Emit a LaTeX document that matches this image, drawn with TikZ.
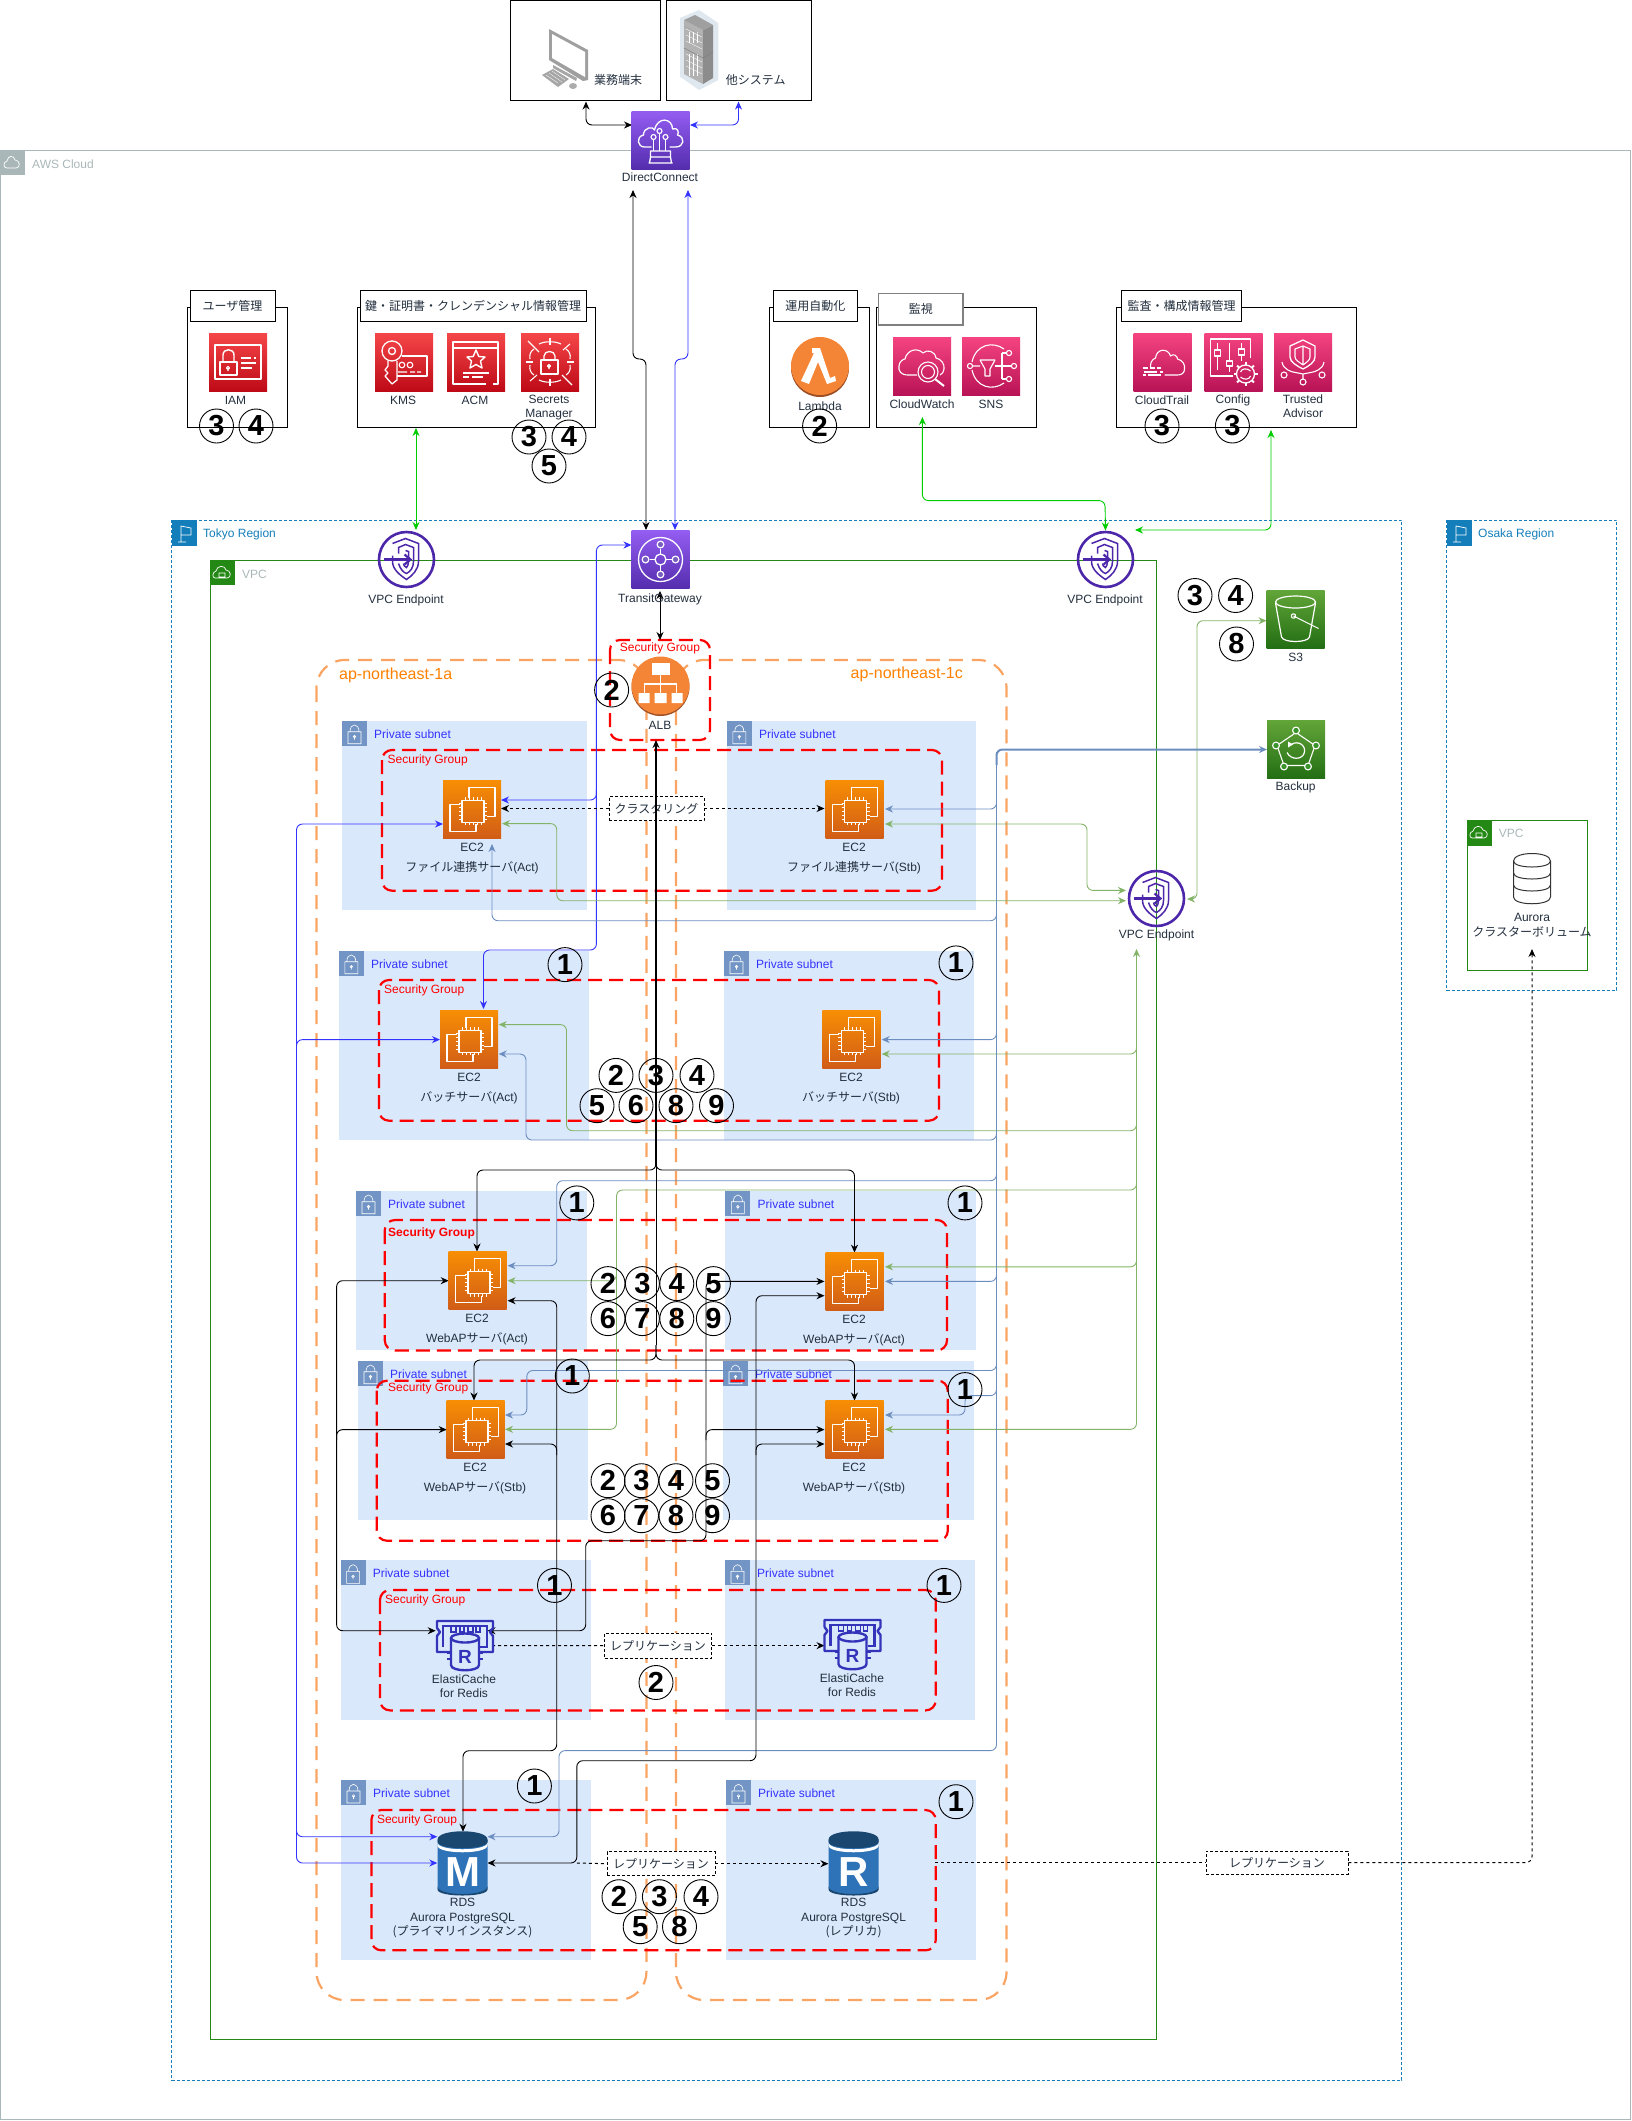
\documentclass[tikz,border=0pt]{standalone}
\usepackage{fontspec}
\setmainfont{Liberation Sans}
\newfontfamily\jp{Noto Sans CJK JP}
\usetikzlibrary{arrows.meta,calc,shapes.geometric}
\pgfdeclarelayer{icons}\pgfsetlayers{main,icons}
\definecolor{awsgray}{HTML}{AAB7B8}
\definecolor{region}{HTML}{147EBA}
\definecolor{vpcg}{HTML}{248814}
\definecolor{subfill}{HTML}{DAE8FC}
\definecolor{subhead}{HTML}{7395C5}
\definecolor{azor}{HTML}{F9A463}
\definecolor{azt}{HTML}{FF8000}
\definecolor{bb}{HTML}{3333FF}
\definecolor{gb}{HTML}{00CC00}
\definecolor{dg}{HTML}{82B366}
\definecolor{db}{HTML}{6C8EBF}
\definecolor{txt}{HTML}{232F3E}
\definecolor{purp}{HTML}{4D27AA}
\definecolor{ecb}{HTML}{3334B9}
\definecolor{redt}{HTML}{F54749}\definecolor{redb}{HTML}{BE0A17}
\definecolor{pinkt}{HTML}{F54480}\definecolor{pinkb}{HTML}{B81356}
\definecolor{purpt}{HTML}{945DF2}\definecolor{purpb}{HTML}{542DAD}
\definecolor{greent}{HTML}{62A538}\definecolor{greenb}{HTML}{236E14}
\definecolor{oranget}{HTML}{F78E04}\definecolor{orangeb}{HTML}{D05C17}
\definecolor{lamb}{HTML}{F58536}\definecolor{lamd}{HTML}{9D5025}
\definecolor{rdsb}{HTML}{2E73B8}\definecolor{rdsd}{HTML}{1A476F}
\definecolor{halo}{HTML}{DFE7EF}
\newcounter{tlabc}
\newcommand\tlab[4][]{\stepcounter{tlabc}\node[lbl,#1] (t\thetlabc) at (#2,#3) {#4};}
\newcommand\numcirc[3]{\stepcounter{tlabc}\node[numc] (t\thetlabc) at (#1,#2) {#3};}
\newcommand\awsicon[5]{\node[iconbox,#2] (#1) at (#3,#4) {}; \pic at (#1.center) {#5};}
\newcommand\rnode[7]{\pgfmathsetmacro\cxv{(#3+#5)/2}\pgfmathsetmacro\cyv{(#4+#6)/2}\pgfmathsetmacro\wv{#5-#3}\pgfmathsetmacro\hv{#6-#4}\node[#2,minimum width=\wv pt,minimum height=\hv pt] (#1) at (\cxv,\cyv) {#7};}
\newcommand\subnet[4]{\fill[subfill] (#1,#2) rectangle (#3,#4);\fill[subhead] (#1,#2) rectangle ++(25,25);
 \draw[white,line width=.6pt] (#1+6,#2+11) rectangle ++(13,12) (#1+8,#2+11) .. controls (#1+8,#2+2) and (#1+17,#2+2) .. (#1+17,#2+11) (#1+12.5,#2+16) circle[radius=1.3] -- ++(0,3);
 \tlab[anchor=west,text=bb]{#1+32}{#2+13}{Private subnet}}
\newcommand\secgrp[4]{\draw[sgst] (#1,#2) rectangle (#3,#4);}
\newcommand\sglab[2]{\tlab[anchor=west,text=red]{#1}{#2}{Security Group}}
\tikzset{
 >={Stealth[length=8pt,width=7pt]},
 lbl/.style={font=\fontsize{12}{14.5}\selectfont,text=txt,align=center,inner sep=0pt},
 numc/.style={circle,draw=black,line width=.9pt,minimum size=34pt,inner sep=0pt,text=black,font=\fontsize{29}{29}\selectfont\bfseries},
 iconbox/.style={minimum size=58pt,inner sep=0pt,outer sep=0pt,draw=none},
 redi/.style={top color=redt,bottom color=redb},
 pinki/.style={top color=pinkt,bottom color=pinkb},
 purpi/.style={top color=purpt,bottom color=purpb},
 greeni/.style={top color=greent,bottom color=greenb},
 orangei/.style={top color=oranget,bottom color=orangeb},
 grp/.style={draw=black,line width=1pt,inner sep=0pt},
 ttl/.style={draw=black,fill=white,line width=1pt,inner sep=0pt,font=\fontsize{12}{14}\selectfont\jp,text=txt},
 dashl/.style={draw=black,dash pattern=on 3pt off 2pt,fill=white,line width=.8pt,inner sep=0pt,font=\fontsize{12}{14}\selectfont\jp,text=txt},
 sgst/.style={draw=red,line width=2.2pt,dash pattern=on 14pt off 7pt,rounded corners=10pt},
 azst/.style={draw=azor,line width=2.2pt,dash pattern=on 14pt off 9pt,rounded corners=28pt},
 cb/.style={line width=.9pt,rounded corners=6pt},
 cblue/.style={cb,draw=bb},
 cgb/.style={cb,draw=gb},
 cdg/.style={cb,draw=dg},
 cdb/.style={cb,draw=db},
 cblk/.style={cb,draw=black},
 cdot/.style={draw=black,line width=1pt,dash pattern=on 3pt off 3pt,rounded corners=6pt},
 art/.style={draw=white,line width=1.1pt,fill=none,line join=round},
 ec2art/.pic={
  \draw[art,line width=1.2pt] (-3,-11)--(-3,-22)--(23,-22)--(23,7)--(15,7);
  \draw[art,line width=1.2pt] (-12,-5)--(-22,-5)--(-22,22)--(4,22)--(4,15);
  \draw[art,line width=1.6pt] (-10,-9) rectangle (12,13);
  \foreach \t in {-7,-3,1,5,9}{\draw[art,line width=.7pt] (\t,-12)--(\t,-9) (\t,13)--(\t,16) (-13,\t+1)--(-10,\t+1) (12,\t+1)--(15,\t+1);}
 },
 iamart/.pic={
  \draw[art] (-23,-17) rectangle (23,17);
  \draw[art] (-18,0) rectangle (-1,13);
  \draw[art,line width=1.4pt] (-15,0) -- (-15,-7) .. controls (-15,-14) and (-4,-14) .. (-4,-7) -- (-4,0);
  \draw[art] (-10,6) circle[radius=1.6] -- ++(0,3);
  \draw[art] (3,-4)--(13,-4) (16,-4)--(18,-4) (3,1)--(18,1) (3,6)--(14,6);
 },
 kmsart/.pic={
  \draw[art,line width=1.3pt] (-12,-11) circle[radius=10] (-12,-11) circle[radius=3.5];
  \draw[art,line width=1.3pt] (-16,-1) -- (-16,4) -- (-19,8) -- (-16,11) -- (-19,14) -- (-12,22) -- (-7,18) -- (-7,-1);
  \draw[art] (-2,-6) -- (23,-6) -- (23,14) -- (-7,14);
  \draw[art] (-2,3) circle[radius=2.8] (6,3) circle[radius=2.8] (-6,10)--(3,10) (6,10)--(11,10) (13,10)--(17,10);
 },
 acmart/.pic={
  \draw[art,line width=1.3pt] (10,22) -- (-23,22) -- (-23,-20) -- (22,-20) -- (22,22) -- (17,22);
  \draw[art] (-23,-14) -- (22,-14) (-13,11)--(13,11) (-13,15)--(-7,15) (-4,15)--(7,15);
  \draw[art,line width=1.4pt] (0,-12) -- (2.8,-5.5) -- (9,-5) -- (4.5,-1) -- (6,6) -- (0,2.5) -- (-6,6) -- (-4.5,-1) -- (-9,-5) -- (-2.8,-5.5) -- cycle;
 },
 secart/.pic={
  \draw[art] (-22,-21)--(-11,-10) (20,-18)--(13,-12) (-20,19)--(-13,13) (12,13)--(22,23);
  \draw[art] (-20,-3) .. controls (-21,-8) and (-19,-11) .. (-16,-13);
  \draw[art] (-20,3) .. controls (-21,8) and (-19,11) .. (-16,13);
  \draw[art] (20,-3) .. controls (21,-8) and (19,-11) .. (16,-13);
  \draw[art] (20,3) .. controls (21,8) and (19,11) .. (16,13);
  \draw[art] (-11,-18) .. controls (-5,-21) and (5,-21) .. (11,-18) (-11,18) .. controls (-5,21) and (5,21) .. (11,18);
  \draw[art] (0,-24)--(0,-17) (0,17)--(0,24) (-24,0)--(-17,0) (17,0)--(24,0);
  \draw[art] (-9,-2) rectangle (8,12);
  \draw[art,line width=1.3pt] (-6,-2) -- (-6,-6) .. controls (-6,-12) and (5,-12) .. (5,-6) -- (5,-2);
  \draw[art] (-1,4) circle[radius=1.5] -- ++(0,3);
 },
 cwart/.pic={
  \draw[art] (-5,9) -- (-14,9) .. controls (-21,9) and (-24,5) .. (-23,0) .. controls (-23,-4) and (-19,-7) .. (-17,-7) .. controls (-15,-16) and (-5,-19) .. (1,-13) .. controls (5,-17) and (13,-15) .. (14,-8) .. controls (19,-7) and (23,-2) .. (22,3) .. controls (22,6) and (20,8) .. (18,9);
  \draw[art] (6,6) circle[radius=10] (6,6) circle[radius=6.5];
  \draw[art,line width=2pt] (13,13)--(22,20);
 },
 snsart/.pic={
  \draw[art] (13,-17) .. controls (2,-25) and (-15,-22) .. (-19,-4) (-19,4) .. controls (-15,22) and (2,25) .. (13,17);
  \draw[art] (-21,0) circle[radius=2.6] (-18,0)--(-11,0);
  \draw[art] (-11,-6) -- (4,-6) -- (-1,3) -- (-1,10) -- (-6,10) -- (-6,3) -- cycle;
  \draw[art] (4,0)--(21,0) (11,-13)--(11,13) (11,-13)--(15,-13) (11,13)--(15,13);
  \draw[art] (18,-13) circle[radius=2.6] (23,0) circle[radius=2.6] (18,13) circle[radius=2.6];
 },
 ctart/.pic={
  \draw[art] (-12,5) .. controls (-12,-3) and (-8,-3) .. (-7,-4) .. controls (-6,-14) and (6,-14) .. (8,-6) .. controls (11,-9) and (15,-6) .. (15,-3) .. controls (20,-2) and (23,3) .. (22,7) .. controls (22,11) and (19,13) .. (15,13) -- (2,13);
  \draw[art] (-20,6)--(-15,6) (-13,6)--(-8,6) (-6,6)--(-2,6) (-19,10)--(-6,10) (-3,10)--(0,10) (-20,13)--(-17,13) (-15,13)--(-2,13);
 },
 cfgart/.pic={
  \draw[art] (-1,14) -- (-23,14) -- (-23,-23) -- (17,-23) -- (17,-4);
  \draw[art] (-16,-19)--(-16,-12) (-16,-6)--(-16,8) (-4,-19)--(-4,-1) (-4,4)--(-4,10) (8,-19)--(8,-13) (8,-7)--(8,-1);
  \draw[art] (-19,-12) rectangle (-13,-6) (-7,-1) rectangle (-1,4) (5,-13) rectangle (11,-7);
  \draw[art,line width=1.3pt] (12,12) circle[radius=9];
  \foreach \a in {0,45,...,315}{\draw[art,line width=2pt] ($(12,12)+(\a:9pt)$) -- ($(12,12)+(\a:12pt)$);}
  \draw[art] (7,10) .. controls (8,6) and (14,6) .. (17,9) (17,14) .. controls (16,18) and (10,18) .. (7,15);
 },
 taart/.pic={
  \draw[art,line width=1.3pt] (-13,-16) -- (0,-22) -- (12,-16) -- (12,-5) .. controls (12,0) and (6,4) .. (0,7) .. controls (-6,4) and (-13,0) .. (-13,-5) -- cycle;
  \draw[art] (-8,-13) -- (0,-16) -- (7,-13) -- (7,-5) .. controls (7,-2) and (4,0) .. (0,3) .. controls (-4,0) and (-8,-2) .. (-8,-5) -- cycle (0,-16)--(0,3);
  \draw[art] (-21,0) .. controls (-20,8) and (-10,10) .. (-10,10) -- (0,12) -- (10,10) .. controls (10,10) and (20,8) .. (21,0);
  \draw[art] (-19,13) circle[radius=3] (0,20) circle[radius=3] (19,13) circle[radius=3] (0,12)--(0,17);
 },
 dcart/.pic={
  \draw[art,line width=1.3pt] (-9,7) -- (-16,7) .. controls (-23,7) and (-25,-3) .. (-17,-5) .. controls (-17,-13) and (-7,-14) .. (-6,-10) .. controls (-3,-24) and (12,-22) .. (12,-11) .. controls (17,-13) and (19,-8) .. (17,-5) .. controls (25,-3) and (24,7) .. (15,7) -- (9,7);
  \draw[art] (-1,-9) circle[radius=2.5] (-7,-3) circle[radius=2.5] (5,-3) circle[radius=2.5];
  \draw[art] (-1,-6.5)--(-1,11) (-7,-0.5)--(-7,11) (5,-0.5)--(5,11);
  \draw[art,line width=1.3pt] (-10,11) -- (10,11) -- (10,17) -- (-10,17) -- cycle (-10,17)--(-11,23) (10,17)--(11,23) (-12,23)--(12,23);
 },
 tgwart/.pic={
  \draw[art,line width=1.3pt] (0,0) circle[radius=22];
  \draw[art,line width=1.3pt] (0,0) circle[radius=5.5];
  \foreach \a/\b in {0/-15,0/15,-15/0,15/0}{\fill[white] (\a,\b) circle[radius=4];\fill[purp!75] (\a,\b) circle[radius=2.6];}
  \draw[art] (0,-11)--(0,-5.5) (0,11)--(0,5.5) (-11,0)--(-5.5,0) (11,0)--(5.5,0);
 },
 vpeart/.pic={
  \draw[purp,line width=2.6pt] (0,0) circle[radius=27.5];
  \draw[purp,line width=1.5pt] (-14,-16) -- (-1,-21) -- (12,-16) -- (12,2) .. controls (12,10) and (6,16) .. (0,20) .. controls (-6,16) and (-14,10) .. (-14,2) -- (-14,-4);
  \draw[purp,line width=1.5pt] (-8,4) .. controls (-6,10) and (-3,13) .. (0,14) .. controls (4,12) and (7,8) .. (7,2) -- (7,-12) -- (-1,-15) -- (-8,-12) -- (-8,-6);
  \draw[purp,line width=1.5pt] (-1,-9) -- (2,-8) -- (2,2) .. controls (2,5) and (1,7) .. (0,8) .. controls (-2,7) and (-3,6) .. (-3,4);
  \draw[purp,line width=2.2pt] (-23,0) -- (2,0);
  \draw[purp,line width=2.2pt] (-2,-5) -- (4,0) -- (-2,5);
 },
 s3art/.pic={
  \draw[art,line width=1.2pt] (0,-17) ellipse[x radius=20,y radius=6];
  \draw[art,line width=1.2pt] (-20,-16) -- (-14,18) .. controls (-12,24) and (12,24) .. (14,18) -- (20,-16);
  \draw[art] (-2,-3) circle[radius=2.2] -- (20,8);
  \draw[art] (20,8) -- (23,9.5);
 },
 bkart/.pic={
  \draw[art,line width=1.1pt] (0,-17) -- (19,-4) -- (12,16) -- (-12,16) -- (-19,-4) -- cycle;
  \foreach \a/\b in {0/-19,20/-4,12/17,-12/17,-20/-4}{\fill[white] (\a,\b) circle[radius=4];\fill[vpcg!90] (\a,\b) circle[radius=2.7];}
  \draw[art,line width=1.2pt] (-5,-5) .. controls (3,-10) and (11,-3) .. (8,4) .. controls (6,10) and (-5,11) .. (-9,3);
  \fill[white] (-8,-8) -- (-8,-2) -- (-3,-5) -- cycle;
 },
 lamart/.pic={
  \fill[white] (-8,-20) -- (0,-20) -- (10,10) -- (15,8) -- (16,13) -- (7,16) -- (-2,-6) -- (-11,16) -- (-19,13) -- (-6,-15) -- (-8,-15) -- cycle;
 },
 albart/.pic={
  \fill[white] (-9,-24) rectangle (9,-12);
  \draw[white,line width=1.1pt] (0,-12)--(0,-4) (-16,6)--(-16,-3)--(16,-3)--(16,6) (0,-3)--(0,6);
  \fill[white] (-22,6) rectangle (-11,16) (-6,6) rectangle (6,16) (11,6) rectangle (22,16);
 },
 rdsart/.pic={
  \fill[rdsb] (-25,-24) -- (-25,24) .. controls (-25,34) and (25,34) .. (25,24) -- (25,-24) -- cycle;
  \fill[rdsd] (-25,-22) .. controls (-25,-13) and (25,-13) .. (25,-22) -- (25,-24) .. controls (25,-35) and (-25,-35) .. (-25,-24) -- cycle;
  \fill[white] (-25,-21) .. controls (-25,-12) and (25,-12) .. (25,-21) -- (25,-18) .. controls (25,-9) and (-25,-9) .. (-25,-18) -- cycle;
  \fill[rdsd] (-25,23) .. controls (-25,33) and (25,33) .. (25,23) -- (25,26) .. controls (25,34) and (-25,34) .. (-25,26) -- cycle;
 },
 ecart/.pic={
  \draw[draw=ecb,line width=2.4pt,line join=round] (-28,-17) -- (-28,-24) -- (28,-24) -- (28,-17) -- (25,-13) -- (28,-9) -- (28,7) -- (14,7) (-28,-17) -- (-25,-13) -- (-28,-9) -- (-28,7) -- (-14,7);
  \draw[draw=ecb,line width=2.2pt] (-22,2) -- (-22,-19) -- (22,-19) -- (22,2) -- (15,2);
  \draw[draw=ecb,line width=1.8pt] (-14,-19) -- (-14,-13) -- (-9,-13) -- (-9,-19) (-5,-19) -- (-5,-13) -- (-1,-13) -- (-1,-19) (3,-19) -- (3,-13) -- (8,-13) -- (8,-19) (11,-19) -- (11,-13) -- (15,-13) -- (15,-19);
  \fill[subfill] (-14,-8) rectangle (14,20);
  \draw[draw=ecb,line width=2.4pt] (0,-7) ellipse[x radius=14,y radius=4.5];
  \draw[draw=ecb,line width=2.4pt] (-14,-7) -- (-14,20) .. controls (-14,27) and (14,27) .. (14,20) -- (14,-7);
  \draw[draw=ecb,line width=1.8pt] (-14,8)--(-18,8) (14,8)--(18,8) (-14,14)--(-18,14) (14,14)--(18,14);
 },
}
\begin{document}
\begin{tikzpicture}[x=1pt,y=-1pt]
\useasboundingbox (0,0) rectangle (1631,2121);
% ---- containers
\draw[awsgray,line width=1pt] (0.5,150) rectangle (1630,2119);
\fill[awsgray] (0,150) rectangle ++(25,25);
\draw[white,line width=.7pt] (7,168) .. controls (3,168) and (3,162) .. (7,161) .. controls (8,155) and (14,155) .. (15,160) .. controls (20,160) and (21,168) .. (16,168) -- cycle;
\tlab[anchor=west,text=awsgray]{32}{164}{AWS Cloud}
\draw[region,line width=1pt,dash pattern=on 3pt off 2pt] (171.5,520) rectangle (1401.5,2080);
\fill[region] (171.5,520) rectangle ++(25,26);
\draw[white,line width=.7pt] (178,542) -- (186,542) (181,542) -- (181,526) -- (191,528) -- (191,535) -- (181,535);
\tlab[anchor=west,text=region]{203}{534}{Tokyo Region}
\draw[region,line width=1pt,dash pattern=on 3pt off 2pt] (1446.5,520) rectangle (1616.5,990);
\fill[region] (1446.5,520) rectangle ++(25,26);
\draw[white,line width=.7pt] (1453,542) -- (1461,542) (1456,542) -- (1456,526) -- (1466,528) -- (1466,535) -- (1456,535);
\tlab[anchor=west,text=region]{1478}{534}{Osaka Region}
\draw[vpcg,line width=1pt] (210,560) rectangle (1156.6,2039);
\fill[vpcg] (210,560) rectangle ++(25,25);
\draw[white,line width=.7pt] (215,578) .. controls (212,578) and (212,572) .. (216,571) .. controls (217,565) and (225,565) .. (226,570) .. controls (231,570) and (232,578) .. (227,578) -- cycle (219,573) rectangle ++(6,4);
\tlab[anchor=west,text=awsgray]{242}{574}{VPC}
\draw[vpcg,line width=1pt] (1467,820.5) rectangle (1587.4,970.5);
\fill[vpcg] (1467,820.5) rectangle ++(25,25);
\draw[white,line width=.7pt] (1472,838) .. controls (1469,838) and (1469,832) .. (1473,831) .. controls (1474,825) and (1482,825) .. (1483,830) .. controls (1488,830) and (1489,838) .. (1484,838) -- cycle (1476,833) rectangle ++(6,4);
\tlab[anchor=west,text=awsgray]{1498.7}{833}{VPC}
\draw[azst] (316.5,660) rectangle (646.4,2000);
\draw[azst] (676,660) rectangle (1006.5,2000);
\tlab[anchor=west,text=azt,font=\fontsize{16}{18}\selectfont]{339}{675.4}{ap-northeast-1a}
\tlab[anchor=east,text=azt,font=\fontsize{16}{18}\selectfont]{963}{674}{ap-northeast-1c}
\subnet{342}{720.7}{586.6}{910.4}\subnet{726.8}{720.7}{976}{910.4}
\subnet{338.8}{950.7}{588.8}{1140}\subnet{724}{950.7}{974}{1140}
\subnet{356}{1190.7}{586.6}{1350.4}\subnet{725.4}{1190.7}{976}{1350.4}
\subnet{358}{1360.7}{588}{1520.4}\subnet{723}{1360.7}{974}{1520.4}
\subnet{340.6}{1560.4}{590.6}{1720.4}\subnet{725}{1560.4}{975}{1720.4}
\subnet{341}{1780}{591}{1960}\subnet{726}{1780}{976}{1960}
\secgrp{610}{640}{710}{740}\tlab[text=red]{660}{648.6}{Security Group}
\secgrp{382}{750}{942}{890.7}\sglab{387.5}{760.7}
\secgrp{379}{980}{939}{1120.7}\sglab{384}{990.7}
\secgrp{384.8}{1220}{947}{1350.4}\tlab[anchor=west,text=red,font=\fontsize{12}{14}\selectfont\bfseries]{388}{1232.9}{Security Group}
\secgrp{376.8}{1380.7}{947.8}{1540.7}\sglab{388}{1388.6}
\secgrp{380}{1590}{935.7}{1710.4}\sglab{385}{1600.7}
\secgrp{371.4}{1810}{935.7}{1950.3}\sglab{376.8}{1820.7}
% ---- top boxes and groups
\rnode{term}{grp}{510}{0.5}{660.5}{100}{}
\rnode{other}{grp}{666}{0.5}{811}{100}{}
\rnode{guser}{grp}{187}{307}{287}{427}{}
\rnode{gkey}{grp}{357}{307}{595}{427}{}
\rnode{gops}{grp}{769}{307}{869}{427}{}
\rnode{gmon}{grp}{876}{307}{1036}{427}{}
\rnode{gaud}{grp}{1116}{307}{1356.5}{427}{}
\rnode{tuser}{ttl}{190}{290.6}{275}{321}{ユーザ管理}
\rnode{tkey}{ttl}{360}{290.6}{586}{321}{鍵・証明書・クレンデンシャル情報管理}
\rnode{tops}{ttl}{773.5}{290.6}{857}{321}{運用自動化}
\rnode{tmon}{ttl,draw=gray,line width=1.6pt}{878.5}{293.4}{963}{325}{監視}
\rnode{taud}{ttl}{1121.7}{290.6}{1241.4}{321}{監査・構成情報管理}
% desktop
\fill[gray!75] (549,29) -- (588,50) -- (588,80) -- (583,81) -- (549,60) -- cycle;
\fill[white] (552,34) -- (585,52) -- (585,77) -- (552,58) -- cycle;
\fill[gray!70] (553,65) -- (577,78) -- (576,81) -- (553,68) -- cycle;
\fill[gray!70] (542,75) -- (553,69) -- (569,79) -- (558,87) -- cycle;
\draw[white,line width=.3pt] (546,75) -- (558,83) (549,73) -- (562,82) (552,71) -- (565,80);
\fill[gray!65] (573,86) ellipse[x radius=4,y radius=3];
% server
\fill[halo] (680,18) -- (699,10) -- (718.3,23) -- (718.3,80) -- (699,90) -- (680,76.7) -- cycle;
\fill[gray!60] (684,20) -- (703,30) -- (703,84) -- (684,74) -- cycle;
\fill[gray!90] (703,30) -- (713,25) -- (713,78) -- (703,84) -- cycle;
\fill[gray!75] (684,20) -- (695,15) -- (713,25) -- (703,30) -- cycle;
\foreach \q in {33,39,45,58,64,70}{\draw[white,line width=.4pt] (686,\q-4) -- (702,\q+4);}
\foreach \q in {689,693,697}{\draw[white,line width=.4pt] (\q,32) -- (\q,43) (\q,54) -- (\q,76);}
\draw[gray,line width=.5pt] (684,48) -- (703,58) -- (713,52);
\draw[gray!70,line width=.5pt] (684,26) -- (703,36);
% ---- connectors
\coordinate (dcb) at (633,190);\coordinate (dcc) at (688,190);
\coordinate (busG) at (1136.5,949);
\begin{pgfonlayer}{icons}
\awsicon{dc}{purpi}{660.5}{140}{dcart}
\awsicon{tgw}{purpi}{660.5}{559.5}{tgwart}
\awsicon{iam}{redi}{238}{362}{iamart}
\awsicon{kms}{redi}{404}{362}{kmsart}
\awsicon{acm}{redi}{476}{362}{acmart}
\awsicon{sec}{redi}{550}{362}{secart}
\awsicon{cw}{pinki}{922}{366}{cwart}
\awsicon{sns}{pinki}{991}{366}{snsart}
\awsicon{ctr}{pinki}{1162.5}{362}{ctart}
\awsicon{cfg}{pinki}{1233.5}{362}{cfgart}
\awsicon{ta}{pinki}{1303}{362}{taart}
\awsicon{s3}{greeni}{1295.5}{619}{s3art}
\awsicon{backup}{greeni}{1296}{749.5}{bkart}
\node[circle,fill=lamd,minimum size=58pt,inner sep=0pt] (lamfn) at (820,368) {};
\fill[lamb] (820,366) circle[radius=29];
\pic at (lamfn.center) {lamart};
\node[circle,fill=lamd,minimum size=58pt,inner sep=0pt] (alb) at (660.5,687) {};
\fill[lamb] (660.5,685.5) circle[radius=29];
\pic at (alb.center) {albart};
\node[iconbox] (vpe1) at (406.5,559.5) {};\pic at (vpe1.center) {vpeart};
\node[iconbox] (vpe2) at (1105.5,559.5) {};\pic at (vpe2.center) {vpeart};
\node[iconbox] (vpe3) at (1156.5,898.5) {};\pic at (vpe3.center) {vpeart};
\awsicon{efa}{orangei}{472}{809.3}{ec2art}
\awsicon{efc}{orangei}{854.5}{809.3}{ec2art}
\awsicon{eba}{orangei}{469}{1039.3}{ec2art}
\awsicon{ebc}{orangei}{851.4}{1039.3}{ec2art}
\awsicon{wa1}{orangei}{477.7}{1280.5}{ec2art}
\awsicon{wa2}{orangei}{854.5}{1281.6}{ec2art}
\awsicon{ws1}{orangei}{475.7}{1429.5}{ec2art}
\awsicon{ws2}{orangei}{854.5}{1429.5}{ec2art}
\node[iconbox] (ec1) at (465,1645) {};\pic at (ec1.center) {ecart};
\node[iconbox] (ec2n) at (852.5,1644) {};\pic at (ec2n.center) {ecart};
\node[inner sep=0pt,minimum width=50pt,minimum height=63pt] (rm) at (462.5,1863.5) {};\pic at (rm.center) {rdsart};
\node[inner sep=0pt,minimum width=50pt,minimum height=63pt] (rr) at (853.6,1863.5) {};\pic at (rr.center) {rdsart};
\node[inner sep=0pt,text=white,font=\fontsize{42}{42}\selectfont\bfseries] (rmL) at (462.5,1872) {M};
\node[inner sep=0pt,text=white,font=\fontsize{42}{42}\selectfont\bfseries] (rrL) at (853.6,1872) {R};
\node[inner sep=0pt,text=ecb,font=\fontsize{19}{19}\selectfont\bfseries] (ec1R) at (465,1656.5) {R};
\node[inner sep=0pt,text=ecb,font=\fontsize{19}{19}\selectfont\bfseries] (ec2R) at (852.5,1655.5) {R};
\node[inner sep=0pt,minimum width=38pt,minimum height=49pt] (aur) at (1532,879) {};
\draw[black!80,line width=1pt,fill=white] (1513.5,861) .. controls (1513.5,851) and (1550.5,851) .. (1550.5,861) -- (1550.5,897) .. controls (1550.5,906) and (1513.5,906) .. (1513.5,897) -- cycle;
\draw[black!80,line width=1pt] (1513.5,861) .. controls (1513.5,869) and (1550.5,869) .. (1550.5,861) (1513.5,873) .. controls (1513.5,881) and (1550.5,881) .. (1550.5,873) (1513.5,885) .. controls (1513.5,893) and (1550.5,893) .. (1550.5,885);
\end{pgfonlayer}
\node[dashl,minimum width=95pt,minimum height=24pt] (clus) at (656.5,808.5) {クラスタリング};
\node[dashl,minimum width=107pt,minimum height=25pt] (rep1) at (658,1645.6) {レプリケーション};
\node[dashl,minimum width=108pt,minimum height=24pt] (rep2) at (661,1863.7) {レプリケーション};
\node[dashl,minimum width=142pt,minimum height=23pt] (rep3) at (1277,1862.5) {レプリケーション};
% bright blue
\draw[cblue,<->] (tgw.west |- 0,545) -| (596.4,800) -- (efa.east |- 0,800);
\draw[cblue,->] (596.4,790) -- (596.4,950) -| (483.5,1009);
\draw[cblue,<->] (efa.west |- 0,824) -| (296.5,1863) -- (rm.west |- 0,1863);
\draw[cblue,<->] (eba.west |- 0,1039.6) -| (296.5,1836.7) -- (rm.west |- 0,1836.7);
\draw[cblue,<->] (dcc) |- (675,359) -- (675,530);
\draw[cblue,<->] (738.5,101.6) |- (690,125);
% black to DC
\draw[cblk,<->] (dcb) |- (646,359) -- (646,530);
\draw[cblk,<->] (586,101.6) |- (632,125);
\draw[cblk,<->] (660,591) -- (660,640);
% bright green
\draw[cgb,<->] (416,428) -- (416,530);
\draw[cgb,<->] (922.4,417) |- (1105,500.6) -- (vpe2.north);
\draw[cgb,<->] (1271,430) |- (1135,530);
% dull green
\draw[cdg,<->] (885,824) -| (1087,890.4) -- (1126,890.4);
\draw[cdg,<->] (502,823.6) -| (556.7,900.7) -- (1126,900.7);
\draw[cdg,<->] (s3.west |- 0,620.7) -| (1197,899) -- (1187,899);
\draw[cdg,<->] (busG) |- (885,1429.3);
\draw[cdg,->] (1136.5,1040) |- (881.7,1054);
\draw[cdg,->] (1136.5,1120) |- (566.5,1130.7) |- (498.7,1024.6);
\draw[cdg,->] (1136.5,1180) |- (616.5,1190) |- (505,1429.3);
\draw[cdg,->] (616.5,1270) |- (507.6,1280.7);
\draw[cdg,->] (1136.5,1255) |- (885,1266.8);
% dull blue
\draw[cdb,<-] (487.5,1836.7) -| (559,1750.6) -| (996.5,1740);
\draw[cdb] (996.5,1745) -- (996.5,752);
\draw[cdb,line width=2pt,->] (996.5,765) |- (backup.west);
\draw[cdb,<-] (885,809) -| (996.5,800);
\draw[cdb,<-] (492,844) |- (996.5,920.7) -- (996.5,910);
\draw[cdb,<-] (881.7,1039.6) -| (996.5,1030);
\draw[cdb,<-] (498.7,1054) -| (526,1140) -| (996.5,1130);
\draw[cdb,<-] (507.6,1265.7) -| (556.7,1180.7) -| (996.5,1170);
\draw[cdb,<-] (885,1281.4) -| (996.5,1270);
\draw[cdb,<-] (505,1415) -| (526.8,1370.5) -| (996.5,1360);
\draw[cdb,<-] (885,1415) -| (965,1395.6) -| (996.5,1385);
% black trunk
\draw[cblk,line width=2pt,<-] (656,740) -- (656,1166);
\draw[cblk] (656,1160) -- (656,1345);
\draw[cblk,<-] (wa1.north -| 477,0) |- (656,1170) -- (656,1155);
\draw[cblk,<-] (wa2.north) |- (656,1170) -- (656,1155);
\draw[cblk,<-] (ws1.north -| 474,0) |- (656,1360) -- (656,1345);
\draw[cblk,<-] (ws2.north) |- (656,1360) -- (656,1345);
\draw[cblk,<->] (wa1.west |- 0,1280.7) -| (336.6,1630.7) -- (435.7,1630.7);
\draw[cblk,->] (336.6,1440) |- (ws1.west |- 0,1429.6);
\draw[cblk,<->] (487.5,1630.7) -| (585.7,1540.7) -| (706,1281.4) -- (824.5,1281.4);
\draw[cblk,->] (706,1440) |- (824.5,1429.6);
\draw[cblk,<->] (507.6,1300.7) -| (556.7,1750.7) -| (463,1831.7);
\draw[cblk,->] (556.7,1455) |- (505,1444);
\draw[cblk,<->] (824.5,1295.7) -| (756,1760.7) -| (576.8,1863) -- (487.5,1863);
\draw[cblk,->] (756,1455) |- (824.5,1444);
% dotted
\draw[cdot,->] (clus.west) -- (efa.east |- clus.west);
\draw[cdot,->] (clus.east) -- (824.5,808.5);
\draw[cdot] (492,1645.7) -- (rep1.west);
\draw[cdot,->] (rep1.east) -- (824.5,1645.6);
\draw[cdot] (576.8,1863) -- (rep2.west);
\draw[cdot,->] (rep2.east) -- (rr.west |- rep2.east);
\draw[cdot] (935,1862.5) -- (rep3.west);
\draw[cdot,->] (rep3.east) -| (1532,949);
% ---- text labels
\tlab{618}{79.5}{\jp 業務端末}
\tlab{755.7}{79.5}{\jp 他システム}
\tlab{660}{177.5}{DirectConnect}
\tlab{235.5}{400.5}{IAM}
\tlab{403}{400.5}{KMS}
\tlab{475}{400.5}{ACM}
\tlab{549}{407.5}{Secrets\\Manager}
\tlab{820}{406.5}{Lambda}
\tlab{922}{404.5}{CloudWatch}
\tlab{991}{404.5}{SNS}
\tlab{1162}{400.5}{CloudTrail}
\tlab{1233}{400.5}{Config}
\tlab{1303}{406}{Trusted\\Advisor}
\tlab{406}{600}{VPC Endpoint}
\tlab{660}{599}{TransitGateway}
\tlab{1105}{600}{VPC Endpoint}
\tlab{1156.5}{935}{VPC Endpoint}
\tlab{1295.6}{657}{S3}
\tlab{1295.6}{787}{Backup}
\tlab{660}{725.7}{ALB}
\tlab{472}{847.5}{EC2}
\tlab{472}{867.5}{{\jp ファイル連携サーバ}(Act)}
\tlab{854}{847.5}{EC2}
\tlab{854}{867.5}{{\jp ファイル連携サーバ}(Stb)}
\tlab{469}{1077.5}{EC2}
\tlab{469}{1097.5}{{\jp バッチサーバ}(Act)}
\tlab{851}{1077.5}{EC2}
\tlab{851}{1097.5}{{\jp バッチサーバ}(Stb)}
\tlab{477}{1318.6}{EC2}
\tlab{477}{1338.6}{WebAP{\jp サーバ}(Act)}
\tlab{854}{1319.6}{EC2}
\tlab{854}{1339.6}{WebAP{\jp サーバ}(Act)}
\tlab{475}{1467.5}{EC2}
\tlab{475}{1487.5}{WebAP{\jp サーバ}(Stb)}
\tlab{854}{1467.5}{EC2}
\tlab{854}{1487.5}{WebAP{\jp サーバ}(Stb)}
\tlab{464}{1686}{ElastiCache\\for Redis}
\tlab{852}{1685}{ElastiCache\\for Redis}
\tlab{462.5}{1918}{RDS\\Aurora PostgreSQL\\{\jp (プライマリインスタンス)}}
\tlab{853.6}{1918}{RDS\\Aurora PostgreSQL\\{\jp (レプリカ)}}
\tlab{1532}{925}{Aurora\\{\jp クラスターボリューム}}
% ---- numbers
\numcirc{216.5}{426}{3}\numcirc{256}{426}{4}
\numcirc{529}{437}{3}\numcirc{569}{437}{4}\numcirc{549}{466}{5}
\numcirc{819.6}{426}{2}
\numcirc{1162}{426}{3}\numcirc{1232.4}{426}{3}
\numcirc{1195}{595.5}{3}\numcirc{1235.6}{595.5}{4}\numcirc{1236.5}{644}{8}
\numcirc{611.6}{690}{2}
\numcirc{565}{964.6}{1}\numcirc{956}{962.9}{1}
\numcirc{616}{1075.4}{2}\numcirc{656}{1075.4}{3}\numcirc{697}{1075.4}{4}
\numcirc{597}{1105.7}{5}\numcirc{636}{1105.7}{6}\numcirc{676}{1105.7}{8}\numcirc{716.5}{1105.7}{9}
\numcirc{576.8}{1202.9}{1}\numcirc{965}{1202.9}{1}
\numcirc{608}{1283.6}{2}\numcirc{642.4}{1283.6}{3}\numcirc{676.8}{1283.6}{4}\numcirc{713.4}{1283.6}{5}
\numcirc{608}{1318.6}{6}\numcirc{642.4}{1318.6}{7}\numcirc{676.8}{1318.6}{8}\numcirc{713.4}{1318.6}{9}
\numcirc{572.3}{1376}{1}\numcirc{965}{1389.6}{1}
\numcirc{608}{1480.7}{2}\numcirc{641.5}{1480.7}{3}\numcirc{676}{1480.7}{4}\numcirc{712.5}{1480.7}{5}
\numcirc{608}{1515.7}{6}\numcirc{641.5}{1515.7}{7}\numcirc{676}{1515.7}{8}\numcirc{712.5}{1515.7}{9}
\numcirc{554.5}{1585.4}{1}\numcirc{944}{1585.4}{1}
\numcirc{656}{1682.5}{2}
\numcirc{534.4}{1786}{1}\numcirc{956}{1801.7}{1}
\numcirc{619}{1896.7}{2}\numcirc{659.4}{1896.7}{3}\numcirc{701}{1896.7}{4}
\numcirc{640.2}{1926.7}{5}\numcirc{679.5}{1926.7}{8}
\end{tikzpicture}
\end{document}
